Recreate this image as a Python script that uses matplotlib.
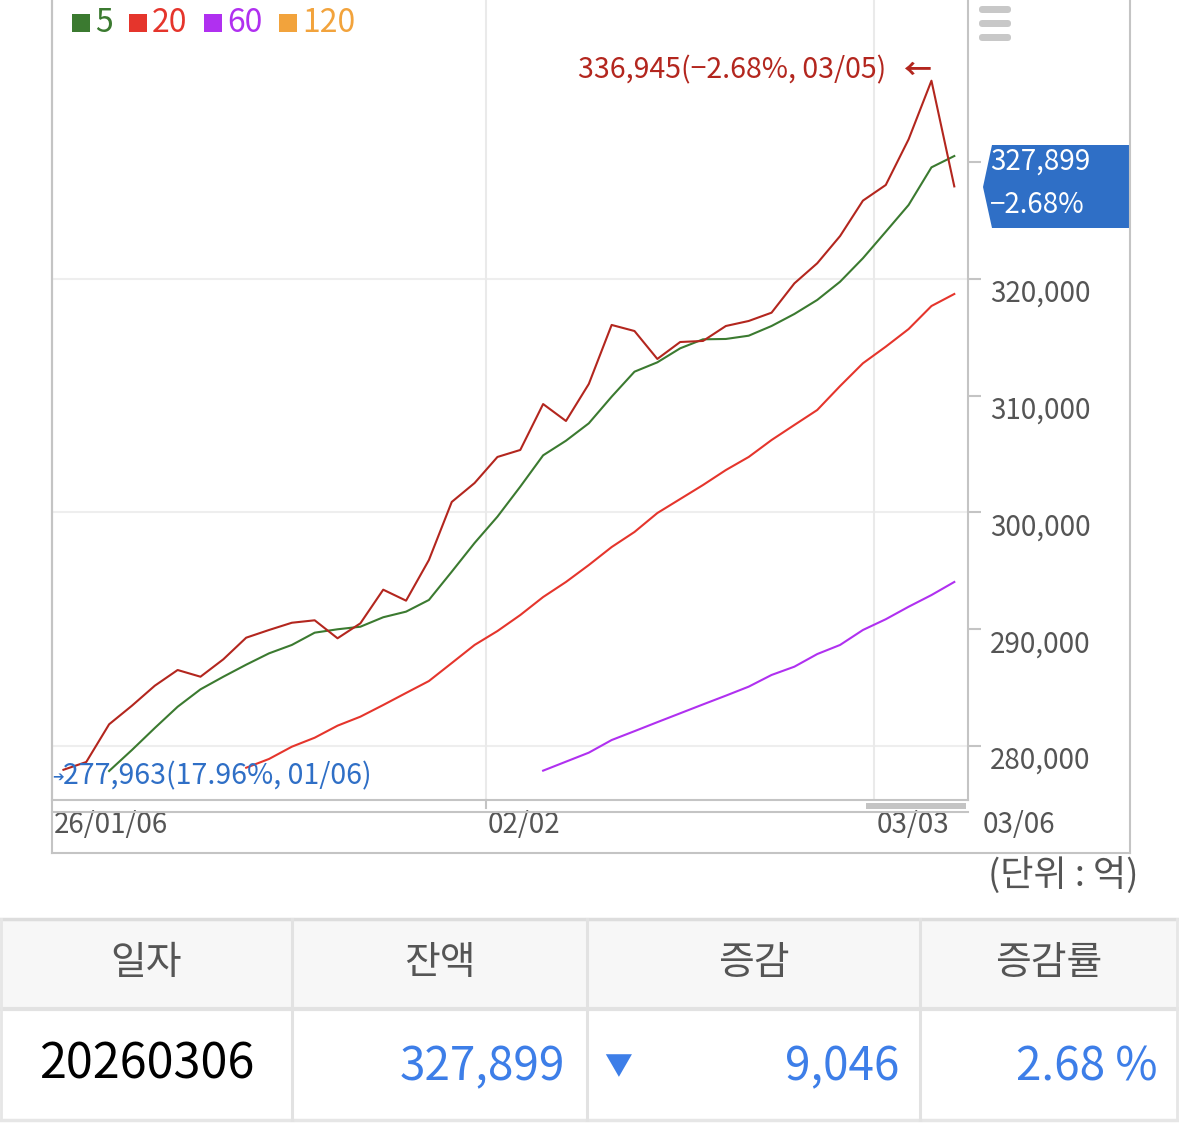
import matplotlib
matplotlib.use("Agg")
import matplotlib.pyplot as plt
from matplotlib.lines import Line2D
from matplotlib.patches import Rectangle, Polygon, FancyBboxPatch
import matplotlib.transforms as mtransforms

plt.rcParams['font.family'] = ['Noto Sans CJK KR', 'DejaVu Sans']

W, H = 1179, 1124

# trading days 26/01/06 .. 26/03/06
dates = ['01/06', '01/07', '01/08', '01/09', '01/12', '01/13', '01/14', '01/15', '01/16',
         '01/19', '01/20', '01/21', '01/22', '01/23', '01/26', '01/27', '01/28', '01/29', '01/30',
         '02/02', '02/03', '02/04', '02/05', '02/06', '02/09', '02/10', '02/11', '02/12', '02/13',
         '02/19', '02/20', '02/23', '02/24', '02/25', '02/26', '02/27',
         '03/03', '03/04', '03/05', '03/06']

# balance (억)
balance = [277963, 278630, 281857, 283450, 285160, 286505, 285930, 287420, 289270, 289930,
           290550, 290760, 289220, 290500, 293380, 292440, 295920, 300890, 302510, 304740,
           305340, 309270, 307820, 310990, 316040, 315520, 313130, 314580, 314670, 315950,
           316380, 317090, 319600, 321320, 323650, 326680, 328020, 331930, 336945, 327899]

# moving averages as drawn (start index, values)
ma5_start = 2
ma5 = [277860, 279660, 281540, 283360, 284850, 285930, 286960, 287930, 288650, 289700,
       289990, 290210, 291020, 291500, 292500, 294920, 297380, 299630, 302200, 304880,
       306130, 307620, 309900, 312040, 312840, 314040, 314810, 314840, 315120, 315950,
       316980, 318180, 319740, 321750, 324020, 326310, 329530, 330500]
ma20_start = 8
ma20 = [278140, 278890, 279940, 280710, 281740, 282510, 283510, 284540, 285560, 287100,
        288650, 289840, 291210, 292750, 294040, 295490, 297030, 298320, 299940, 301140,
        302340, 303620, 304740, 306190, 307480, 308760, 310810, 312760, 314180, 315690,
        317660, 318690]
ma60_start = 21
ma60 = [277890, 278660, 279430, 280510, 281270, 282040, 282800, 283560, 284310, 285080,
        286080, 286790, 287870, 288650, 289930, 290850, 291920, 292920, 294040]

legend_labels = ['5', '20', '60', '120']
legend_colors = ['#3b7a30', '#e5352c', '#b030f0', '#f2a33c']
bal_color = '#b3261e'
ytick_vals = [280000, 290000, 300000, 310000, 320000, 330000]
ylabel_vals = [280000, 290000, 300000, 310000, 320000]
grid_vals = [280000, 300000, 320000]
xlabels = [(0, '26/01/06'), (19, '02/02'), (36, '03/03')]

table_head = ['일자', '잔액', '증감', '증감률']
row_date = '20260306'
row_bal = '327,899'
row_chg = '9,046'
row_pct = '2.68 %'

max_i = balance.index(max(balance))
min_i = balance.index(min(balance))
last = balance[-1]
max_pct = (last - balance[max_i]) / balance[max_i] * 100
min_pct = (last - balance[min_i]) / balance[min_i] * 100


def fx(x):
    return x / W


def fy(y):
    return 1 - y / H


fig = plt.figure(figsize=(W / 100, H / 100), dpi=100)
fig.patch.set_facecolor('white')

ax = fig.add_axes([fx(52), fy(800), (968 - 52) / W, 800 / H])
ax.set_xlim(-0.5, 39.6)
ylo = 280000 + (746 - 800) * 85.595
yhi = 280000 + 746 * 85.595
ax.set_ylim(ylo, yhi)

for v in grid_vals:
    ax.axhline(v, color='#eeeeee', lw=1.5, zorder=0)
for b in (18.5, 35.5):
    ax.axvline(b, color='#eaeaea', lw=1.5, zorder=0)

xs = list(range(len(balance)))
ax.plot(range(ma60_start, ma60_start + len(ma60)), ma60, color=legend_colors[2], lw=1.5)
ax.plot(range(ma20_start, ma20_start + len(ma20)), ma20, color=legend_colors[1], lw=1.5)
ax.plot(range(ma5_start, ma5_start + len(ma5)), ma5, color=legend_colors[0], lw=1.5)
ax.plot(xs, balance, color=bal_color, lw=1.5)

ax.spines['top'].set_visible(False)
for s in ['left', 'right', 'bottom']:
    ax.spines[s].set_color('#c4c4c4')
    ax.spines[s].set_linewidth(1.5)

ax.set_xticks([])
ax.yaxis.tick_right()
ax.set_yticks(ytick_vals)
ax.set_yticklabels([])
ax.tick_params(axis='y', length=9, width=1.5, color='#c4c4c4')

# y labels, a bit under their ticks
trans = mtransforms.blended_transform_factory(ax.transAxes, ax.transData)
lab_tr = mtransforms.offset_copy(trans, fig=fig, x=0, y=-15 * 0.72, units='points')
for v in ylabel_vals:
    ax.text(1.0 + 22 / 916, v, f'{v:,}', transform=lab_tr, ha='left', va='center',
            fontsize=20, color='#555555', clip_on=False)

# x labels
xtr = mtransforms.blended_transform_factory(ax.transData, fig.transFigure)
for i, lab in xlabels:
    ax.text(i - 0.5 + 0.08, fy(825), lab, transform=xtr, ha='left', va='center',
            fontsize=20, color='#555555', clip_on=False)
fig.text(fx(983), fy(825), dates[-1], ha='left', va='center', fontsize=20, color='#555555')
ax.add_artist(Line2D([18.5, 18.5], [fy(800), fy(808)], transform=xtr, color='#c4c4c4', lw=1.5, clip_on=False))

# max / min labels
ax.text(max_i - 2.0, max(balance) + 900,
        f'{max(balance):,}(\u2212{abs(max_pct):.2f}%, {dates[max_i]})',
        ha='right', va='center', fontsize=20.5, color=bal_color)
ax.text(max_i - 0.05, max(balance) + 800, '←', ha='right', va='center', fontsize=20,
        color=bal_color, fontweight='bold')
ax.text(-0.5, min(balance) - 600, '➔', ha='left', va='center', fontsize=10,
        color='#2f6fc6', family='DejaVu Sans', fontweight='bold', clip_on=False)
ax.text(0.0, min(balance) - 550,
        f'{min(balance):,}({min_pct:.2f}%, {dates[min_i]})',
        ha='left', va='center', fontsize=20.5, color='#2f6fc6')

# last value flag
flag = Polygon([(fx(992), fy(145)), (fx(1130), fy(145)), (fx(1130), fy(228)),
                (fx(992), fy(228)), (fx(983), fy(187))], closed=True,
               transform=fig.transFigure, facecolor='#2f6fc6', edgecolor='none')
fig.add_artist(flag)
fig.text(fx(990), fy(162), f'{last:,}', ha='left', va='center', fontsize=20, color='white')
fig.text(fx(990), fy(205), f'\u2212{abs(max_pct):.2f}%', ha='left', va='center', fontsize=20, color='white')

# legend
sq_x = [72, 129, 204, 279]
for x0, lab, c in zip(sq_x, legend_labels, legend_colors):
    fig.add_artist(Rectangle((fx(x0), fy(32)), 18 / W, 18 / H, transform=fig.transFigure,
                             facecolor=c, edgecolor='none'))
    fig.text(fx(x0 + 23), fy(23), lab, ha='left', va='center', fontsize=23, color=c)

# menu icon
for yy in (6, 20, 34):
    fig.add_artist(FancyBboxPatch((fx(979), fy(yy + 7)), 32 / W, 7 / H,
                                  boxstyle='round,pad=0,rounding_size=0.003',
                                  transform=fig.transFigure, facecolor='#c8c8c8', edgecolor='none'))


# frame lines around the chart
def fline(x0, y0, x1, y1, c='#c4c4c4', lw=1.5):
    fig.add_artist(Line2D([fx(x0), fx(x1)], [fy(y0), fy(y1)], transform=fig.transFigure,
                          color=c, lw=lw))


fline(52, 0, 52, 853)
fline(1130, 0, 1130, 853)
fline(52, 853, 1130, 853)
fline(52, 812, 968, 812)
fig.add_artist(Rectangle((fx(866), fy(809)), 100 / W, 6 / H, transform=fig.transFigure,
                         facecolor='#c4c4c4', edgecolor='none'))

fig.text(fx(1139), fy(875), '(단위 : 억)', ha='right', va='center', fontsize=26, color='#555555')

# table
col_x = [0, 292, 587, 920, 1177]
fig.add_artist(Rectangle((fx(0), fy(1008)), 1177 / W, 88 / H, transform=fig.transFigure,
                         facecolor='#f7f7f7', edgecolor='none'))
fline(0, 919, 1177, 919, '#dddddd', 2.5)
fline(0, 1009, 1177, 1009, '#e2e2e2', 3)
fline(0, 1120, 1177, 1120, '#e6e6e6', 2.5)
for cx in col_x[1:-1]:
    fline(cx, 919, cx, 1120, '#e2e2e2', 2.2)
fline(1, 919, 1, 1120, '#e6e6e6', 2)
fline(1177, 919, 1177, 1120, '#e6e6e6', 2)

for i, h in enumerate(table_head):
    cx = (col_x[i] + col_x[i + 1]) / 2
    fig.text(fx(cx), fy(963), h, ha='center', va='center', fontsize=28, color='#555555')

blue = '#3d7ee8'
fig.text(fx(147), fy(1065), row_date, ha='center', va='center', fontsize=35, color='black')
fig.text(fx(565), fy(1067), row_bal, ha='right', va='center', fontsize=33, color=blue)
fig.text(fx(604), fy(1067), '▼', ha='left', va='center', fontsize=20, color=blue)
fig.text(fx(899), fy(1067), row_chg, ha='right', va='center', fontsize=33, color=blue)
fig.text(fx(1157), fy(1067), row_pct, ha='right', va='center', fontsize=33, color=blue)

fig.savefig('out.png', dpi=100)
